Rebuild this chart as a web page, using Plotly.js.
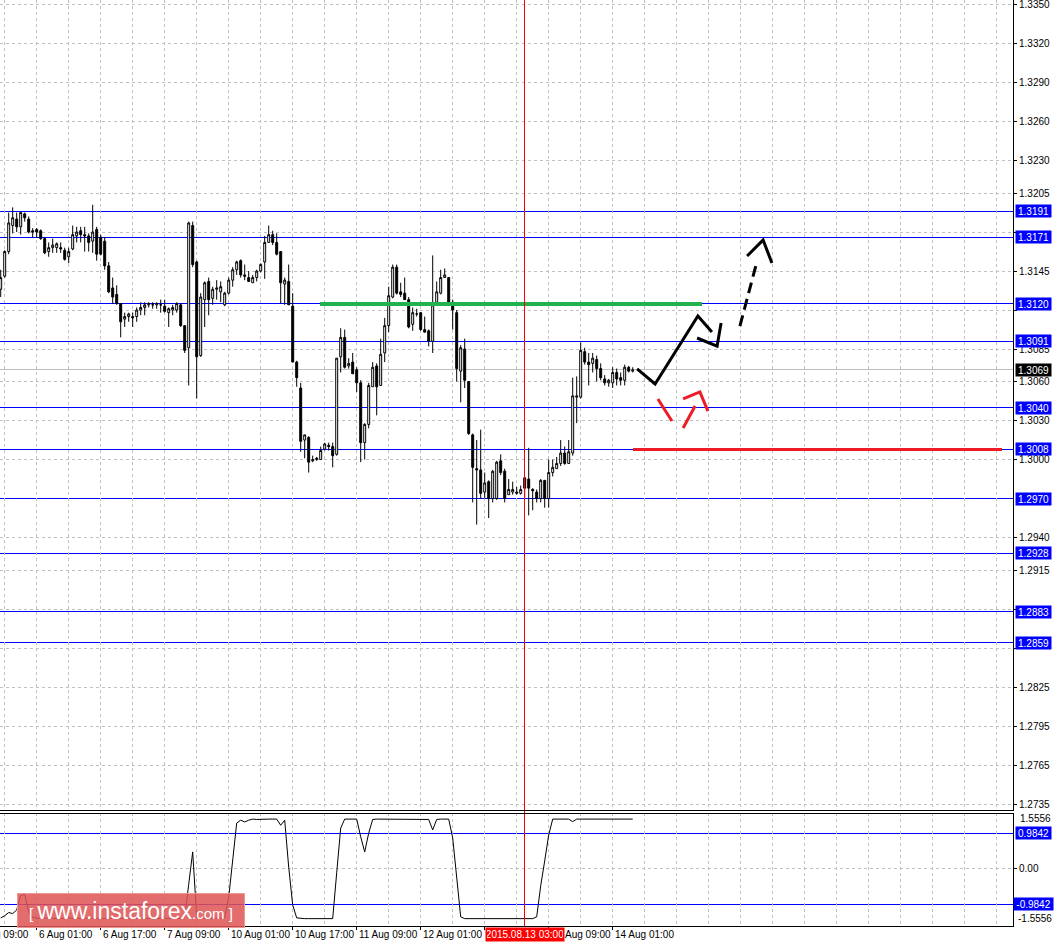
<!DOCTYPE html>
<html><head><meta charset="utf-8">
<script src="https://cdn.plot.ly/plotly-3.0.1.min.js"></script>
<style>html,body{margin:0;padding:0;background:#fff}#chart{width:1055px;height:944px}
.shapelayer path{shape-rendering:crispEdges}</style>
</head><body><div id="chart"></div>
<script>
// ---------- DATA (GBPUSD H1) ----------
const barOpen = [1.3131,1.3141,1.3160,1.3180,1.3185,1.3179,1.3189,1.3185,1.3176,1.3177,
1.3176,1.3170,1.3160,1.3163,1.3163,1.3163,1.3161,1.3156,1.3162,1.3172,
1.3176,1.3173,1.3172,1.3168,1.3177,1.3171,1.3168,1.3149,1.3132,1.3127,
1.3120,1.3108,1.3110,1.3110,1.3110,1.3115,1.3117,1.3119,1.3119,1.3119,
1.3119,1.3118,1.3113,1.3115,1.3115,1.3119,1.3103,1.3086,1.3180,1.3152,
1.3080,1.3123,1.3137,1.3124,1.3131,1.3129,1.3119,1.3128,1.3138,1.3146,
1.3153,1.3142,1.3140,1.3136,1.3140,1.3145,1.3152,1.3167,1.3173,1.3167,
1.3160,1.3135,1.3137,1.3118,1.3075,1.3055,1.3015,1.3017,1.2999,1.3000,
1.3000,1.3008,1.3011,1.3010,1.3004,1.3079,1.3094,1.3072,1.3075,1.3069,
1.3059,1.3013,1.3027,1.3056,1.3072,1.3057,1.3082,1.3103,1.3125,1.3148,
1.3129,1.3128,1.3123,1.3104,1.3112,1.3113,1.3100,1.3099,1.3091,1.3121,
1.3128,1.3140,1.3140,1.3121,1.3113,1.3068,1.3085,1.3060,1.3019,1.2993,
1.2992,1.2975,1.2983,1.2970,1.2970,1.2999,1.2991,1.2973,1.2975,1.2974,
1.2974,1.2986,1.2985,1.2977,1.2975,1.2970,1.2984,1.2970,1.2990,1.2993,
1.2997,1.3005,1.2997,1.3005,1.3048,1.3048,1.3083,1.3075,1.3074,1.3077,
1.3070,1.3062,1.3059,1.3059,1.3067,1.3063,1.3061,1.3071,1.3068];
const barHigh = [1.3146,1.3161,1.3190,1.3194,1.3190,1.3190,1.3190,1.3187,1.3178,1.3178,
1.3177,1.3171,1.3167,1.3170,1.3167,1.3167,1.3163,1.3163,1.3180,1.3179,
1.3179,1.3179,1.3174,1.3196,1.3179,1.3173,1.3171,1.3152,1.3140,1.3134,
1.3120,1.3113,1.3113,1.3113,1.3117,1.3121,1.3121,1.3121,1.3121,1.3121,
1.3123,1.3123,1.3117,1.3119,1.3121,1.3120,1.3103,1.3183,1.3183,1.3153,
1.3128,1.3137,1.3140,1.3133,1.3138,1.3137,1.3129,1.3140,1.3148,1.3153,
1.3154,1.3150,1.3145,1.3142,1.3146,1.3151,1.3172,1.3180,1.3176,1.3174,
1.3160,1.3140,1.3150,1.3128,1.3076,1.3059,1.3019,1.3018,1.3003,1.3002,
1.3010,1.3013,1.3013,1.3013,1.3078,1.3101,1.3100,1.3078,1.3082,1.3071,
1.3061,1.3028,1.3059,1.3075,1.3074,1.3093,1.3109,1.3133,1.3150,1.3150,
1.3136,1.3140,1.3125,1.3117,1.3116,1.3113,1.3110,1.3100,1.3157,1.3137,
1.3146,1.3147,1.3140,1.3123,1.3115,1.3088,1.3093,1.3060,1.3020,1.3015,
1.3023,1.2990,1.2984,1.2992,1.2999,1.3004,1.2993,1.2985,1.2983,1.2979,
1.2980,1.2986,1.3009,1.2978,1.2977,1.2985,1.2984,1.3000,1.3000,1.3002,
1.3015,1.3010,1.3015,1.3063,1.3064,1.3090,1.3086,1.3082,1.3082,1.3080,
1.3074,1.3065,1.3062,1.3071,1.3070,1.3067,1.3073,1.3072,1.3071];
const barLow = [1.3125,1.3140,1.3158,1.3174,1.3175,1.3173,1.3183,1.3174,1.3171,1.3171,
1.3169,1.3158,1.3156,1.3159,1.3159,1.3159,1.3153,1.3151,1.3161,1.3167,
1.3167,1.3160,1.3160,1.3159,1.3153,1.3157,1.3146,1.3128,1.3120,1.3119,
1.3094,1.3102,1.3106,1.3102,1.3106,1.3111,1.3111,1.3117,1.3116,1.3116,
1.3113,1.3113,1.3102,1.3111,1.3113,1.3102,1.3082,1.3057,1.3148,1.3047,
1.3079,1.3102,1.3111,1.3119,1.3123,1.3121,1.3118,1.3127,1.3133,1.3142,
1.3140,1.3138,1.3137,1.3136,1.3137,1.3144,1.3139,1.3167,1.3165,1.3157,
1.3120,1.3119,1.3119,1.3075,1.3056,1.3006,1.3001,1.2990,1.2998,1.2999,
1.3000,1.3007,1.3007,1.2994,1.3003,1.3067,1.3070,1.3070,1.3066,1.3052,
1.2998,1.3000,1.3024,1.3056,1.3034,1.3057,1.3075,1.3098,1.3124,1.3127,
1.3125,1.3123,1.3101,1.3099,1.3110,1.3099,1.3098,1.3087,1.3082,1.3120,
1.3127,1.3140,1.3120,1.3100,1.3060,1.3044,1.3055,1.3019,1.2967,1.2950,
1.2970,1.2970,1.2955,1.2967,1.2969,1.2988,1.2967,1.2973,1.2973,1.2973,
1.2973,1.2971,1.2957,1.2961,1.2967,1.2967,1.2963,1.2963,1.2987,1.2993,
1.2995,1.2996,1.2997,1.3003,1.3028,1.3047,1.3073,1.3057,1.3067,1.3060,
1.3061,1.3057,1.3056,1.3055,1.3057,1.3057,1.3057,1.3067,1.3067];
const barClose = [1.3140,1.3160,1.3182,1.3186,1.3179,1.3190,1.3186,1.3175,1.3175,1.3175,
1.3170,1.3159,1.3163,1.3165,1.3166,1.3162,1.3154,1.3160,1.3173,1.3175,
1.3173,1.3172,1.3167,1.3175,1.3158,1.3158,1.3149,1.3129,1.3125,1.3120,
1.3106,1.3110,1.3112,1.3109,1.3115,1.3117,1.3119,1.3120,1.3119,1.3120,
1.3119,1.3114,1.3116,1.3117,1.3120,1.3103,1.3084,1.3182,1.3150,1.3079,
1.3125,1.3136,1.3123,1.3131,1.3132,1.3133,1.3128,1.3138,1.3146,1.3152,
1.3142,1.3141,1.3137,1.3140,1.3145,1.3150,1.3167,1.3173,1.3167,1.3158,
1.3136,1.3138,1.3119,1.3075,1.3063,1.3014,1.3019,1.2998,1.3000,1.3001,
1.3007,1.3012,1.3010,1.3003,1.3078,1.3094,1.3071,1.3074,1.3066,1.3059,
1.3013,1.3027,1.3057,1.3071,1.3056,1.3081,1.3103,1.3126,1.3148,1.3128,
1.3127,1.3123,1.3102,1.3113,1.3112,1.3100,1.3098,1.3091,1.3119,1.3129,
1.3140,1.3142,1.3121,1.3115,1.3070,1.3086,1.3061,1.3020,1.2994,1.2992,
1.2974,1.2982,1.2970,1.2991,1.2998,1.2990,1.2970,1.2977,1.2977,1.2975,
1.2977,1.2978,1.2978,1.2976,1.2970,1.2984,1.2970,1.2990,1.2994,1.2997,
1.3005,1.2997,1.3006,1.3049,1.3049,1.3084,1.3075,1.3073,1.3078,1.3070,
1.3063,1.3059,1.3061,1.3067,1.3062,1.3061,1.3071,1.3068,1.3069];
const indicatorValues = [-1.37,-1.31,-1.22,-1.25,-1.15,-0.75,-0.72,-1.2,
-1.36,-1.38,-1.39,-1.38,-1.37,-1.39,-1.38,-1.38,-1.39,-1.37,
-1.38,-1.39,-1.38,-1.38,-1.37,-1.39,-1.38,-1.38,-1.39,-1.38,
-1.38,-1.39,-1.38,-1.38,-1.39,-1.38,-1.37,-1.38,-1.39,-1.38,
-1.38,-1.39,-1.38,-1.38,-1.39,-1.38,-1.38,-1.39,
-1.37,-0.44,0.46,-1.34,
-1.38,-1.39,-1.38,-1.39,-1.38,-1.38,-1.37,
-0.8,0.15,1.26,1.34,1.29,1.34,1.37,1.36,1.37,1.37,1.37,1.37,1.37,1.2,1.34,0.04,-1.01,-1.37,
-1.39,-1.39,-1.39,-1.39,-1.39,-1.39,-1.39,-1.39,-1.39,
-0.12,1.12,1.37,1.37,1.37,1.37,0.88,0.46,0.98,1.36,
1.37,1.37,1.37,1.37,1.37,1.37,1.37,1.37,1.37,1.37,1.37,1.37,1.37,
1.36,1.07,1.36,1.37,1.37,1.37,0.85,-0.35,-1.34,
-1.39,-1.39,-1.39,-1.39,-1.39,-1.39,-1.39,-1.39,-1.39,-1.39,-1.39,-1.39,-1.39,-1.39,-1.39,-1.39,-1.39,-1.39,
-1.34,-0.48,0.21,0.93,1.37,
1.37,1.37,1.37,1.37,1.30,
1.37,1.37,1.37,1.37,1.37,1.37,1.37,1.37,1.37,1.37,1.37,1.37,1.37,1.37,1.37];

const levelValues = [1.3191,1.3171,1.3120,1.3091,1.3040,1.3008,1.2970,1.2928,1.2883,1.2859];
const currentPrice = 1.3069;
const priceTicks = [1.3350,1.3320,1.3290,1.3260,1.3230,1.3205,1.3175,1.3145,1.3115,1.3085,1.3060,1.3030,1.3000,1.2940,1.2915,1.2885,1.2855,1.2825,1.2795,1.2765,1.2735];
// tick labels that sit (almost) completely under a level label in the reference
const priceTicksHidden = [1.3175,1.3115,1.2885,1.2855];
const indicatorLevels = [0.9842,-0.9842];
const indicatorBounds = [1.5556,-1.5556];
const timeTickBars = [-7,9,25,41,57,73,89,105,137,153];
const timeTickLabels = ['5 Aug 09:00','6 Aug 01:00','6 Aug 17:00','7 Aug 09:00','10 Aug 01:00','10 Aug 17:00','11 Aug 09:00','12 Aug 01:00','13 Aug 09:00','14 Aug 01:00'];
const markerBar = 131;
const markerLabel = '2015.08.13 03:00';

// hand-drawn analysis objects (bar index, price)
const greenLineX = [79.8,175.3], greenLineY = [1.3120,1.3120];
const redLineX = [158.1,250.3], redLineY = [1.3008,1.3008];
const blackPathX = [159.1,163.6,174.3,177.8,null,174.1,179.1,180.1,null,186.6,190.6,192.8];
const blackPathY = [1.30697,1.30581,1.31104,1.30981,null,1.30935,1.30873,1.31050,null,1.31566,1.31689,1.31512];
const blackDashX = [184.8,189.1], blackDashY = [1.31027,1.31527];
const redPathX = [164.3,167.8,null,170.6,173.6,null,170.6,174.8,176.8];
const redPathY = [1.30466,1.30297,null,1.30243,1.30412,null,1.30466,1.30520,1.30373];

// ---------- LAYOUT GEOMETRY ----------
const plotW = 1013, plotH = 926;
const mainBottomPx = 810, indTopPx = 813;
const pxPerPrice = 13000, topPrice = 1.33535;
const pxPerBar = 4, firstBarPx = 0.7;
const barIdx = barOpen.map((_, i) => i);
const FONT = 'Tahoma, "Liberation Sans", Arial, sans-serif';
const GRID = '#c0c0c0';

const gridBars = [];
for (let b = 1; b <= 253; b += 8) gridBars.push(b);

const traces = [
  {type:'candlestick', x:barIdx, open:barOpen, high:barHigh, low:barLow, close:barClose,
   xaxis:'x', yaxis:'y', whiskerwidth:0, hoverinfo:'skip',
   increasing:{line:{color:'#000', width:1}, fillcolor:'#fff'},
   decreasing:{line:{color:'#000', width:1}, fillcolor:'#000'}},
  {type:'scatter', mode:'lines', x:barIdx, y:indicatorValues, xaxis:'x', yaxis:'y2',
   line:{color:'#000', width:1}, hoverinfo:'skip'},
  {type:'scatter', mode:'lines', x:blackPathX, y:blackPathY, line:{color:'#000', width:3}, connectgaps:false, hoverinfo:'skip'},
  {type:'scatter', mode:'lines', x:blackDashX, y:blackDashY, line:{color:'#000', width:3, dash:'11px,6px'}, hoverinfo:'skip'},
  {type:'scatter', mode:'lines', x:redPathX, y:redPathY, line:{color:'#ee1c25', width:3}, connectgaps:false, hoverinfo:'skip'}
];

const shapes = [];
levelValues.forEach(v => shapes.push({type:'line', layer:'between', xref:'paper', x0:0, x1:1, yref:'y', y0:v, y1:v, line:{color:'#0000ff', width:1}}));
shapes.push({type:'line', layer:'between', xref:'paper', x0:0, x1:1, yref:'y', y0:currentPrice, y1:currentPrice, line:{color:'#c0c0c0', width:1}});
indicatorLevels.forEach(v => shapes.push({type:'line', layer:'between', xref:'paper', x0:0, x1:1, yref:'y2', y0:v, y1:v, line:{color:'#0000ff', width:1}}));
// trend/level objects drawn on top of the level lines
shapes.push({type:'line', xref:'x', x0:greenLineX[0], x1:greenLineX[1], yref:'y', y0:greenLineY[0], y1:greenLineY[1], line:{color:'#22b14c', width:4}});
shapes.push({type:'line', xref:'x', x0:redLineX[0], x1:redLineX[1], yref:'y', y0:redLineY[0], y1:redLineY[1], line:{color:'#ed1c24', width:3}});
shapes.push({type:'line', xref:'x', x0:markerBar, x1:markerBar, yref:'paper', y0:0, y1:1, line:{color:'#ff0000', width:1}});
shapes.push({type:'line', xref:'paper', x0:0, x1:1.0005, yref:'paper', y0:(plotH-mainBottomPx)/plotH, y1:(plotH-mainBottomPx)/plotH, line:{color:'#000', width:1}});
shapes.push({type:'line', xref:'paper', x0:0, x1:1.0005, yref:'paper', y0:(plotH-indTopPx)/plotH, y1:(plotH-indTopPx)/plotH, line:{color:'#000', width:1}});

const labelX = 1015/plotW;
const annotations = [];
levelValues.forEach(v => annotations.push({xref:'paper', x:labelX, xanchor:'left', yref:'y', y:v, yanchor:'middle',
  text:v.toFixed(4), showarrow:false, bgcolor:'#0000ff', font:{family:FONT, size:10, color:'#fff'}, width:33, height:10, borderpad:1, align:'center'}));
annotations.push({xref:'paper', x:labelX, xanchor:'left', yref:'y', y:currentPrice, yanchor:'middle',
  text:currentPrice.toFixed(4), showarrow:false, bgcolor:'#000', font:{family:FONT, size:10, color:'#fff'}, width:33, height:10, borderpad:1, align:'center'});
indicatorLevels.forEach(v => annotations.push({xref:'paper', x:v<0?1013/plotW:labelX, xanchor:'left', yref:'y2', y:v, yanchor:'middle',
  text:v.toFixed(4), showarrow:false, bgcolor:'#0000ff', font:{family:FONT, size:10, color:'#fff'}, width:v<0?37:33, height:10, borderpad:1, align:'center'}));
annotations.push({xref:'paper', x:1018/plotW, xanchor:'left', yref:'paper', y:(plotH-818)/plotH, yanchor:'middle',
  text:indicatorBounds[0].toFixed(4), showarrow:false, font:{family:FONT, size:10, color:'#000'}});
annotations.push({xref:'paper', x:1016/plotW, xanchor:'left', yref:'paper', y:(plotH-918)/plotH, yanchor:'middle',
  text:indicatorBounds[1].toFixed(4), showarrow:false, font:{family:FONT, size:10, color:'#000'}});
timeTickBars.forEach((b, i) => {
  let txt = timeTickLabels[i];
  const a = {xref:'x', x:b, xanchor:'left', yref:'paper', y:(plotH-934)/plotH, yanchor:'middle',
    showarrow:false, font:{family:FONT, size:10, color:'#000'}};
  if (b < 0) { a.xref = 'paper'; a.x = (firstBarPx + pxPerBar*b)/plotW; }
  // the label right after the highlighted date is partly covered in the reference: only its visible part is drawn
  if (b > markerBar && b - markerBar < 10) { txt = txt.replace(/^\d+ /, ''); a.xshift = 14; }
  a.text = txt;
  annotations.push(a);
});
annotations.push({xref:'x', x:markerBar, xanchor:'center', yref:'paper', y:(plotH-934.5)/plotH, yanchor:'middle',
  text:markerLabel, showarrow:false, bgcolor:'#ff0000', font:{family:FONT, size:10, color:'#fff'}, width:76, height:11, borderpad:1});
annotations.push({xref:'paper', x:131/plotW, xanchor:'center', yref:'paper', y:(plotH-910.5)/plotH, yanchor:'middle',
  text:'[ <span style="font-size:23px">www.instaforex</span>.com ]', showarrow:false,
  bgcolor:'rgba(222,84,84,0.86)', bordercolor:'rgba(238,150,150,1)', borderwidth:1,
  font:{family:'"Liberation Sans", Arial, sans-serif', size:15, color:'#fff'}, width:226, height:33, borderpad:0});

const layout = {
  width:1055, height:944, paper_bgcolor:'#fff', plot_bgcolor:'#fff',
  margin:{l:0, r:1055-plotW, t:0, b:944-plotH, pad:0},
  showlegend:false, hovermode:false, dragmode:false,
  font:{family:FONT, size:10, color:'#000'},
  xaxis:{anchor:'y2', range:[(0-firstBarPx)/pxPerBar, (plotW-firstBarPx)/pxPerBar], rangeslider:{visible:false},
    tickmode:'array', tickvals:timeTickBars.concat([121]), showticklabels:false, ticks:'outside', ticklen:3, tickcolor:'#000',
    showgrid:false, zeroline:false, showline:true, linecolor:'#000', linewidth:1, fixedrange:true,
    minor:{tickvals:gridBars, showgrid:true, gridcolor:GRID, griddash:'3px,3px', gridwidth:1, ticks:''}},
  yaxis:{domain:[(plotH-mainBottomPx)/plotH, 1], anchor:'x', side:'right',
    range:[topPrice - mainBottomPx/pxPerPrice, topPrice], tickmode:'array', tickvals:priceTicks,
    ticktext:priceTicks.map(v => priceTicksHidden.includes(v) ? '' : v.toFixed(4)), ticks:'outside', ticklen:3, tickcolor:'#000',
    ticklabeloverflow:'allow',
    showgrid:true, gridcolor:GRID, griddash:'3px,3px', gridwidth:1, zeroline:false,
    showline:true, linecolor:'#000', linewidth:1, fixedrange:true, tickfont:{family:FONT, size:10, color:'#000'}},
  yaxis2:{domain:[0, (plotH-indTopPx)/plotH], anchor:'x', side:'right', range:[-1.594, 1.539],
    tickmode:'array', tickvals:[0], ticktext:['0.00'], ticks:'outside', ticklen:3, tickcolor:'#000',
    showgrid:true, gridcolor:GRID, griddash:'3px,3px', gridwidth:1, zeroline:false,
    showline:true, linecolor:'#000', linewidth:1, fixedrange:true, tickfont:{family:FONT, size:10, color:'#000'}},
  shapes:shapes, annotations:annotations
};

Plotly.newPlot('chart', traces, layout, {staticPlot:true, displayModeBar:false});
</script></body></html>
